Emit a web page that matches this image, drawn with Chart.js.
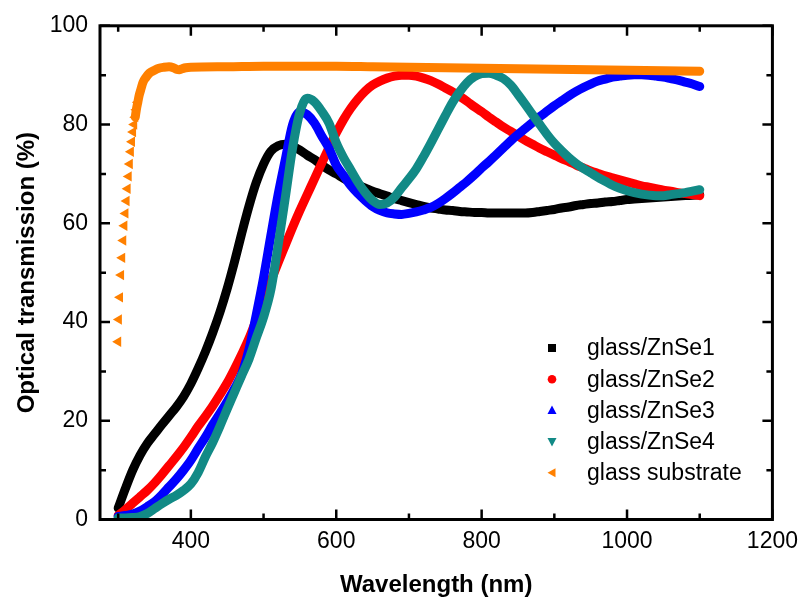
<!DOCTYPE html>
<html>
<head>
<meta charset="utf-8">
<script src="https://cdn.jsdelivr.net/npm/chart.js@4.4.0/dist/chart.umd.min.js"></script>
<style>
  html, body { margin: 0; padding: 0; background: #fff; }
</style>
</head>
<body>
<canvas id="chart" width="806" height="597"></canvas>
<script>
// wavelength grid (nm) shared by the four ZnSe films
const wavelength = [
  300, 310, 320, 330, 340, 350, 360, 370, 380, 390,
  400, 410, 420, 430, 440, 450, 460, 470, 480, 490,
  500, 510, 520, 530, 540, 550, 560, 570, 580, 590,
  600, 610, 620, 630, 640, 650, 660, 670, 680, 690,
  700, 710, 720, 730, 740, 750, 760, 770, 780, 790,
  800, 810, 820, 830, 840, 850, 860, 870, 880, 890,
  900, 910, 920, 930, 940, 950, 960, 970, 980, 990,
  1000, 1010, 1020, 1030, 1040, 1050, 1060, 1070, 1080, 1090, 1100
];

const znse1 = [
  2.3, 6.3, 10, 13, 15.4, 17.3, 19.2, 21, 22.8, 24.9,
  27.5, 30.6, 34, 37.8, 42, 46.8, 52.2, 58, 63.5, 68.3,
  72, 74.6, 75.7, 76, 75.6, 74.8, 73.8, 72.9, 71.8, 70.8,
  70, 69.1, 68.3, 67.7, 67.1, 66.5, 66, 65.5, 65, 64.6,
  64.2, 63.8, 63.4, 63.1, 62.9, 62.7, 62.6, 62.4, 62.3, 62.2,
  62.2, 62.1, 62.1, 62.1, 62.1, 62.1, 62.1, 62.2, 62.4, 62.6,
  62.8, 63.1, 63.3, 63.6, 63.8, 64, 64.1, 64.3, 64.4, 64.6,
  64.8, 64.9, 65, 65.1, 65.2, 65.3, 65.4, 65.5, 65.6, 65.7, 65.8
];

const znse2 = [
  0.8, 2, 3.3, 4.6, 5.9, 7.4, 9.1, 10.9, 12.7, 14.6,
  16.7, 18.9, 20.9, 23, 25.3, 27.7, 30.5, 33.5, 36.7, 40.5,
  44.5, 48.3, 52, 55.6, 59.2, 62.6, 65.8, 69, 72.2, 75.3,
  78.3, 81, 83.3, 85.2, 86.8, 88, 88.8, 89.4, 89.8, 90,
  90, 89.8, 89.4, 88.9, 88.2, 87.4, 86.6, 85.7, 84.7, 83.6,
  82.6, 81.5, 80.5, 79.5, 78.6, 77.7, 76.8, 76, 75.2, 74.5,
  73.8, 73.1, 72.5, 71.8, 71.2, 70.6, 70.1, 69.6, 69.2, 68.8,
  68.4, 68, 67.6, 67.3, 67, 66.7, 66.5, 66.2, 66, 65.8, 65.6
];

const znse3 = [
  0.6, 0.8, 1.1, 1.7, 2.6, 3.6, 5, 6.6, 8.2, 10,
  12, 14.4, 16.7, 19.2, 21.5, 23.9, 26.5, 29.5, 34.5, 41.5,
  49, 57.5, 65.8, 73, 80, 82.6, 82, 80.3, 77.7, 75.2,
  71.8, 69.7, 67.6, 66, 64.6, 63.4, 62.6, 62.1, 61.9, 61.8,
  62, 62.3, 62.7, 63.2, 64, 65, 66.1, 67.3, 68.5, 69.8,
  71.2, 72.5, 73.9, 75.3, 76.7, 78, 79.2, 80.4, 81.6, 82.7,
  83.8, 84.8, 85.8, 86.7, 87.5, 88.2, 88.8, 89.2, 89.6, 89.8,
  90, 90.1, 90.1, 90, 89.8, 89.6, 89.3, 89, 88.6, 88.2, 87.7
];

const znse4 = [
  0.3, 0.3, 0.4, 0.6, 1.2, 2.2, 3.2, 4.1, 4.9, 5.9,
  7.2, 9.5, 12.7, 15.6, 18.9, 22.4, 25.8, 29.2, 32.5, 36.8,
  41, 46.5, 55.5, 65.3, 75.3, 82.5, 85.3, 84.6, 82.7, 80.3,
  76.3, 73.3, 70.8, 68.3, 66.2, 64.6, 63.8, 64.1, 65.3, 67.2,
  69, 71, 73.5, 76.2, 79, 81.8, 84.5, 86.7, 88.5, 89.7,
  90.3, 90.4, 90, 89.3, 88, 86.1, 84.1, 82, 80, 78,
  76.2, 74.7, 73.3, 72.1, 71.1, 70.2, 69.3, 68.5, 67.7, 67.1,
  66.6, 66.2, 65.9, 65.7, 65.6, 65.6, 65.8, 66, 66.2, 66.5, 66.8
];

// glass substrate: dense points on the absorption edge, then the plateau
const substrateWl = [
  300, 301, 302.5, 304, 305.5, 307, 308.5, 310, 311.5, 313,
  314.5, 316, 317.5, 319, 320.5, 322, 323.5, 325, 327, 329,
  331, 334, 338, 343, 350, 356, 363, 370, 376, 380,
  384, 388, 393, 400, 450, 500, 550, 600, 650, 700,
  750, 800, 850, 900, 950, 1000, 1050, 1100
];
const substrateT = [
  36, 40.5, 45, 49.5, 53, 56.5, 59.5, 62, 64.5, 67,
  69.5, 72, 74.5, 76.5, 78.5, 80, 81.5, 83, 84.5, 86,
  87, 88.5, 89.5, 90.4, 91, 91.4, 91.6, 91.7, 91.5, 91.2,
  91.1, 91.3, 91.5, 91.6, 91.7, 91.8, 91.8, 91.8, 91.7, 91.6,
  91.5, 91.4, 91.3, 91.2, 91.1, 91, 90.9, 90.8
];

const seriesNames = ['glass/ZnSe1', 'glass/ZnSe2', 'glass/ZnSe3', 'glass/ZnSe4', 'glass substrate'];
const seriesColors = ['#000000', '#ff0000', '#0000ff', '#128a86', '#ff8000'];

const xMajor = [400, 600, 800, 1000, 1200];
const xMinor = [300, 500, 700, 900, 1100];
const yMajor = [0, 20, 40, 60, 80, 100];
const yMinor = [10, 30, 50, 70, 90];

const FONT = '"Liberation Sans", Arial, sans-serif';

function pairs(xs, ys) {
  return xs.map((x, i) => ({ x: x, y: ys[i] }));
}

function filmSet(i, values) {
  return {
    label: seriesNames[i],
    data: pairs(wavelength, values),
    borderColor: seriesColors[i],
    backgroundColor: seriesColors[i],
    borderWidth: 9,
    borderJoinStyle: 'round',
    borderCapStyle: 'round',
    cubicInterpolationMode: 'monotone',
    pointRadius: 0,
    fill: false,
    order: 5 - i
  };
}

// box with inward ticks on all four sides, like the original plot
const framePlugin = {
  id: 'frame',
  afterDatasetsDraw(chart) {
    const { ctx, chartArea: a } = chart;
    const x = chart.scales.x, y = chart.scales.y;
    ctx.save();
    ctx.strokeStyle = '#000';
    ctx.lineWidth = 2.5;
    ctx.beginPath();
    const tx = (v, len) => {
      const px = x.getPixelForValue(v);
      ctx.moveTo(px, a.bottom); ctx.lineTo(px, a.bottom - len);
      ctx.moveTo(px, a.top); ctx.lineTo(px, a.top + len);
    };
    const ty = (v, len) => {
      const py = y.getPixelForValue(v);
      ctx.moveTo(a.left, py); ctx.lineTo(a.left + len, py);
      ctx.moveTo(a.right, py); ctx.lineTo(a.right - len, py);
    };
    xMajor.forEach(v => tx(v, 10));
    xMinor.forEach(v => tx(v, 6));
    yMajor.forEach(v => ty(v, 10));
    yMinor.forEach(v => ty(v, 6));
    ctx.stroke();
    ctx.lineWidth = 3;
    ctx.strokeRect(a.left, a.top, a.right - a.left, a.bottom - a.top);
    ctx.restore();
  }
};

// legend drawn inside the plot, symbols + names
const legendPlugin = {
  id: 'innerLegend',
  afterDraw(chart) {
    const ctx = chart.ctx;
    const sx = 552, tx = 587, top = 348, gap = 31.2;
    ctx.save();
    ctx.font = '23px ' + FONT;
    ctx.textBaseline = 'middle';
    ctx.textAlign = 'left';
    seriesNames.forEach((name, i) => {
      const cy = top + i * gap;
      ctx.fillStyle = seriesColors[i];
      ctx.beginPath();
      if (i === 0) {
        ctx.rect(sx - 4, cy - 4, 8, 8);
      } else if (i === 1) {
        ctx.arc(sx, cy, 4.3, 0, Math.PI * 2);
      } else if (i === 2) {
        ctx.moveTo(sx, cy - 5); ctx.lineTo(sx + 4.5, cy + 3.5); ctx.lineTo(sx - 4.5, cy + 3.5);
      } else if (i === 3) {
        ctx.moveTo(sx, cy + 5); ctx.lineTo(sx + 4.5, cy - 3.5); ctx.lineTo(sx - 4.5, cy - 3.5);
      } else {
        ctx.moveTo(sx - 4.5, cy); ctx.lineTo(sx + 3.5, cy - 4.5); ctx.lineTo(sx + 3.5, cy + 4.5);
      }
      ctx.closePath();
      ctx.fill();
      ctx.fillStyle = '#000';
      ctx.fillText(name, tx, cy + 1);
    });
    ctx.restore();
  }
};

const substrateColor = seriesColors[4];

new Chart(document.getElementById('chart'), {
  type: 'line',
  data: {
    datasets: [
      filmSet(0, znse1),
      filmSet(1, znse2),
      filmSet(2, znse3),
      filmSet(3, znse4),
      {
        label: seriesNames[4],
        data: pairs(substrateWl, substrateT),
        borderColor: substrateColor,
        backgroundColor: substrateColor,
        borderWidth: 9,
        borderJoinStyle: 'round',
        borderCapStyle: 'round',
        cubicInterpolationMode: 'monotone',
        pointStyle: 'triangle',
        pointRotation: -90,
        pointBorderWidth: 0,
        pointRadius: ctx => (substrateWl[ctx.dataIndex] <= 327 ? 6 : 0),
        segment: {
          borderColor: ctx => (substrateWl[ctx.p0DataIndex] < 323 ? 'rgba(0,0,0,0)' : substrateColor)
        },
        fill: false,
        order: 1
      }
    ]
  },
  options: {
    responsive: false,
    animation: false,
    layout: { padding: { left: 0, right: 27, top: 24, bottom: 0 } },
    plugins: {
      legend: { display: false },
      tooltip: { enabled: false }
    },
    scales: {
      x: {
        type: 'linear',
        min: 275,
        max: 1200,
        grid: { display: false, drawTicks: false },
        border: { display: false },
        afterBuildTicks: s => { s.ticks = xMajor.map(v => ({ value: v })); },
        afterFit: s => { s.height = 77.5; },
        ticks: {
          color: '#000',
          padding: 8,
          maxRotation: 0,
          callback: v => String(v),
          font: { family: FONT, size: 23 }
        },
        title: {
          display: true,
          text: 'Wavelength (nm)',
          color: '#000',
          padding: { top: 0, bottom: 3 },
          font: { family: FONT, size: 24, weight: 'bold', lineHeight: 0.75 }
        }
      },
      y: {
        min: 0,
        max: 100,
        grid: { display: false, drawTicks: false },
        border: { display: false },
        afterBuildTicks: s => { s.ticks = yMajor.map(v => ({ value: v })); },
        afterFit: s => { s.width = 100; },
        ticks: {
          color: '#000',
          padding: 12,
          callback: v => String(v),
          font: { family: FONT, size: 23 }
        },
        title: {
          display: true,
          text: 'Optical transmission (%)',
          color: '#000',
          padding: { top: 15, bottom: 0 },
          font: { family: FONT, size: 24, weight: 'bold', lineHeight: 1 }
        }
      }
    }
  },
  plugins: [framePlugin, legendPlugin]
});
</script>
</body>
</html>
